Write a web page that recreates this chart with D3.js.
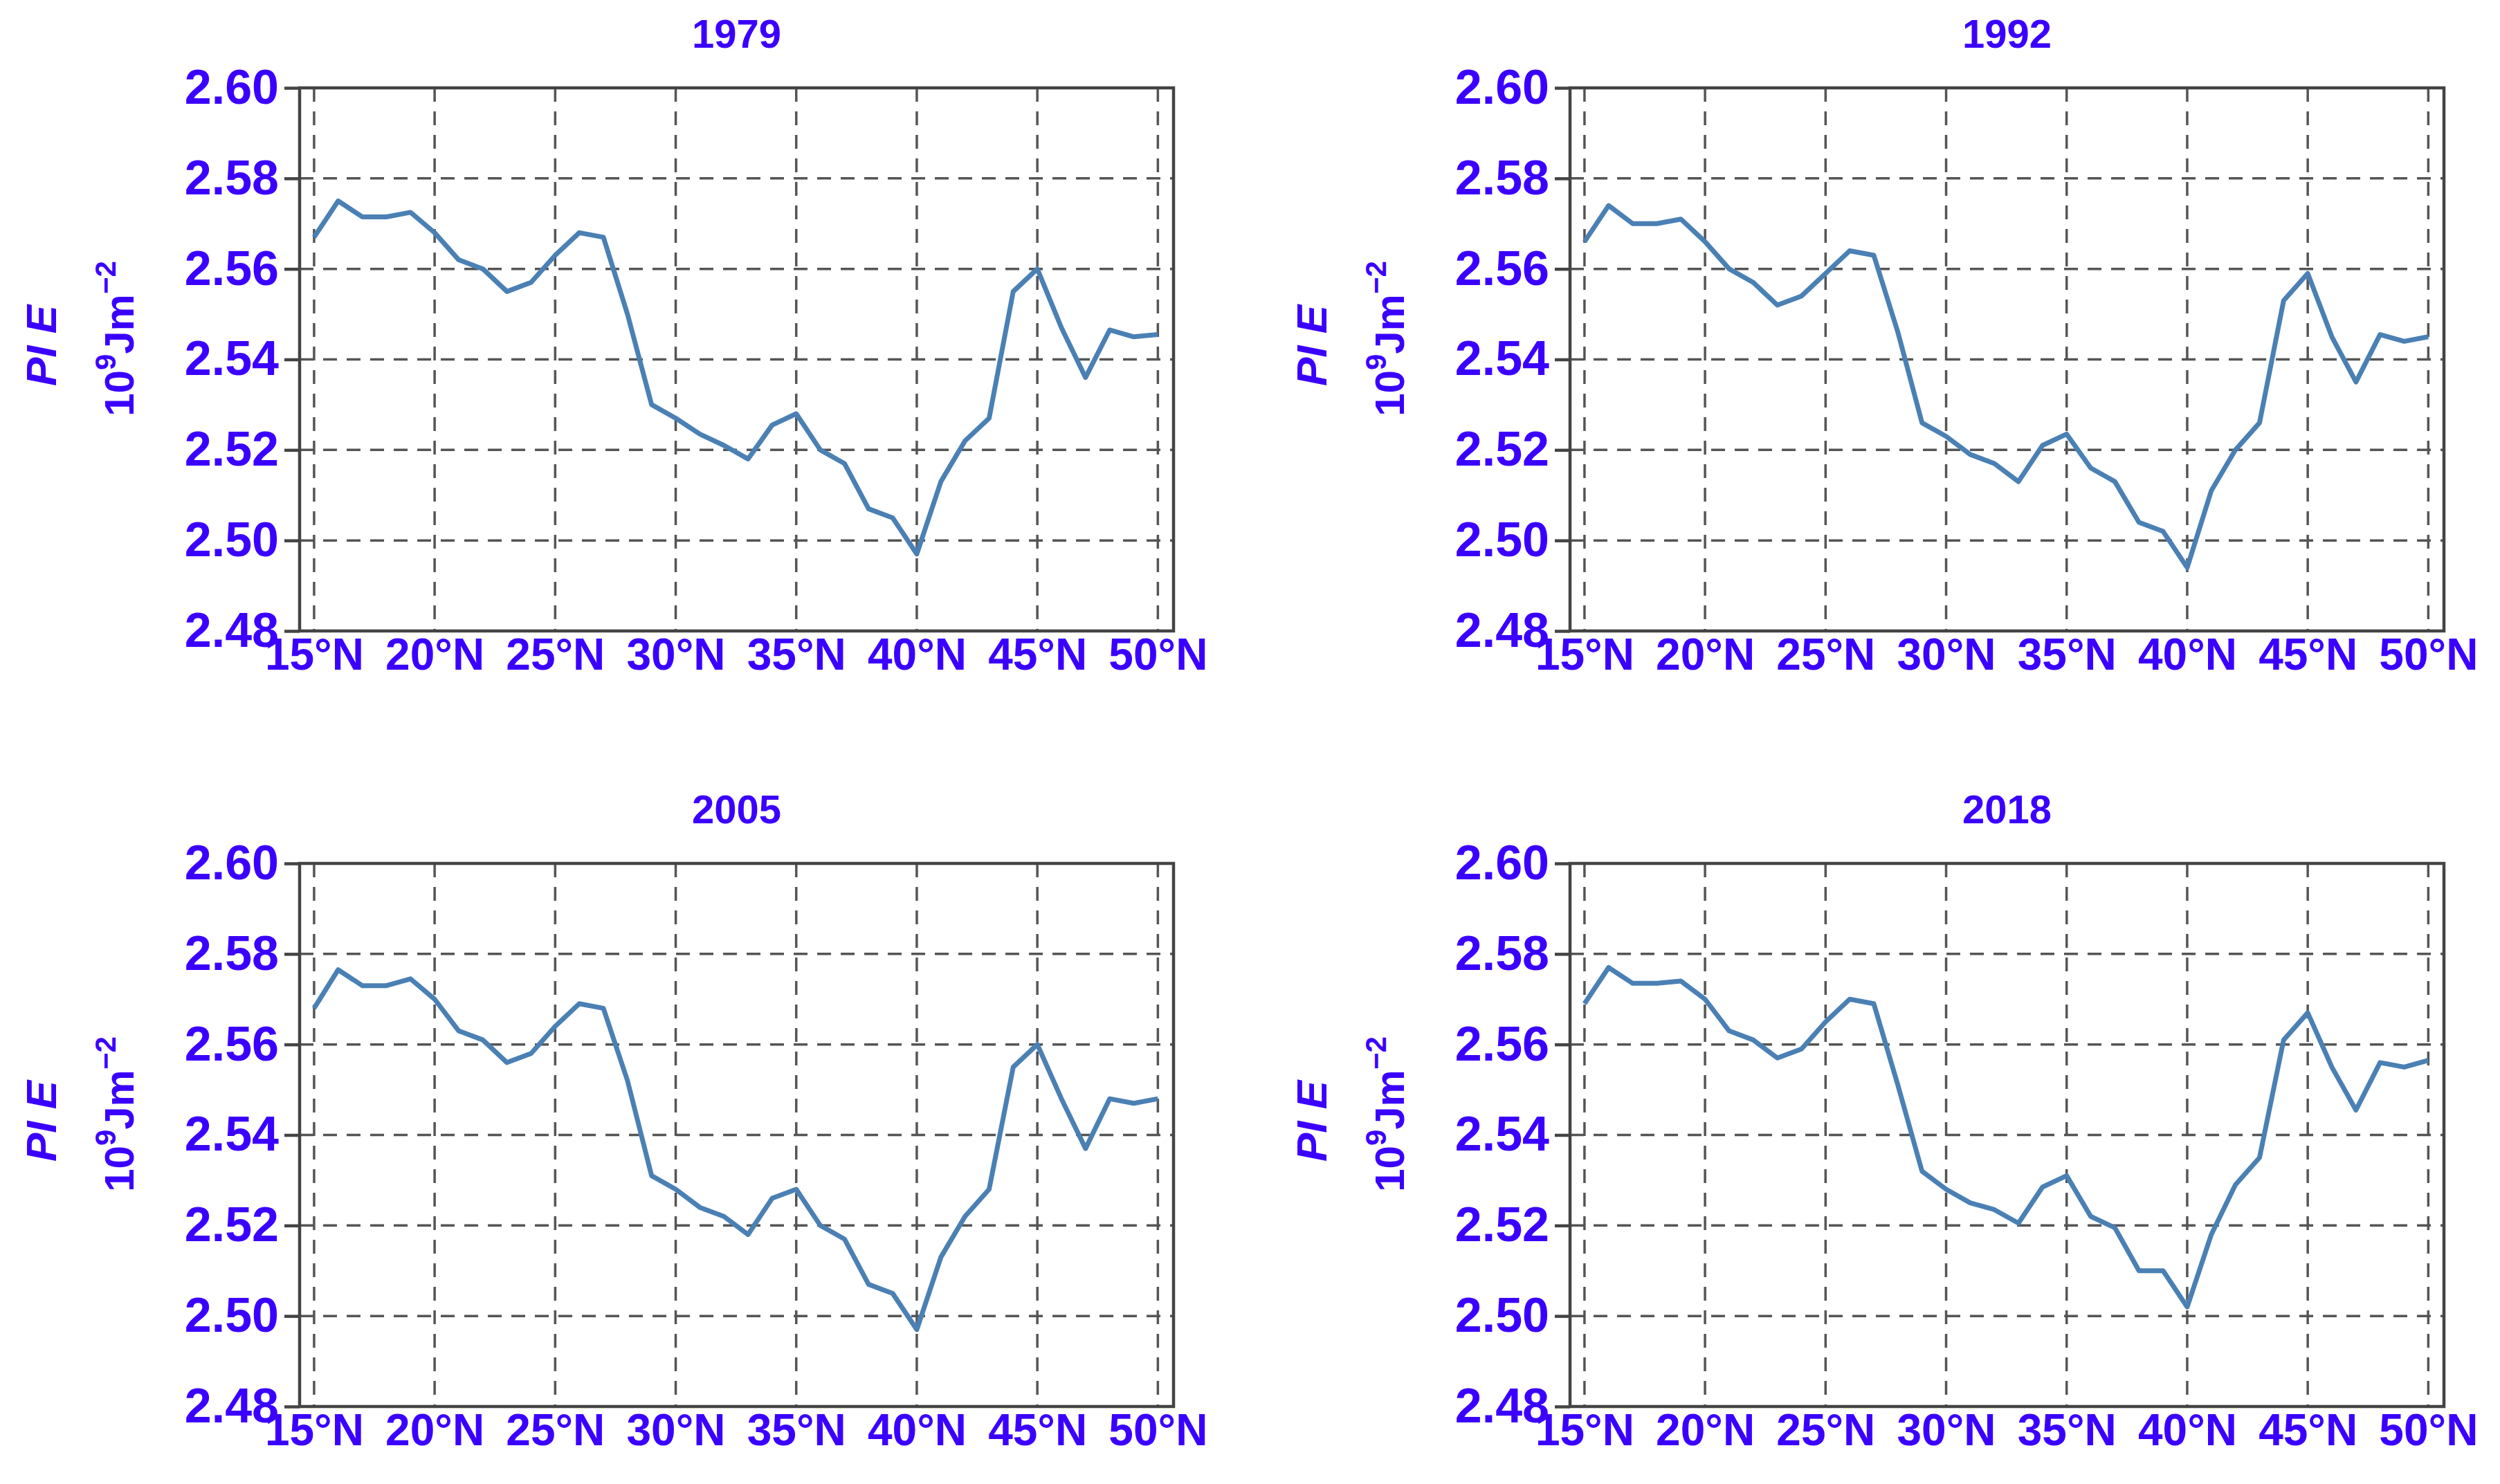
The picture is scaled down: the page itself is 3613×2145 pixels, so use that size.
<!DOCTYPE html>
<html><head><meta charset="utf-8">
<style>body{margin:0;background:#fff}</style>
</head><body>
<svg id="chart" width="3613" height="2145"></svg>
<script src="https://d3js.org/d3.v7.min.js"></script>
<script>
var lats = d3.range(15, 51);
var years = ["1979", "1992", "2005", "2018"];
var pe1979 = [2.567,2.575,2.5715,2.5715,2.5725,2.568,2.562,2.560,2.555,2.557,2.563,2.568,2.567,2.550,2.530,2.527,2.5235,2.521,2.518,2.5255,2.528,2.520,2.517,2.507,2.505,2.497,2.513,2.522,2.527,2.555,2.560,2.547,2.536,2.5465,2.545,2.5455];
var pe1992 = [2.566,2.574,2.570,2.570,2.571,2.566,2.560,2.557,2.552,2.554,2.559,2.564,2.563,2.546,2.526,2.523,2.519,2.517,2.513,2.521,2.5235,2.516,2.513,2.504,2.502,2.494,2.511,2.520,2.526,2.553,2.559,2.545,2.535,2.5455,2.544,2.545];
var pe2005 = [2.568,2.5765,2.573,2.573,2.5745,2.570,2.563,2.561,2.556,2.558,2.564,2.569,2.568,2.552,2.531,2.528,2.524,2.522,2.518,2.526,2.528,2.520,2.517,2.507,2.505,2.497,2.513,2.522,2.528,2.555,2.560,2.548,2.537,2.548,2.547,2.548];
var pe2018 = [2.569,2.577,2.5735,2.5735,2.574,2.570,2.563,2.561,2.557,2.559,2.565,2.570,2.569,2.551,2.532,2.528,2.525,2.5235,2.5205,2.5285,2.531,2.522,2.5195,2.510,2.510,2.502,2.518,2.529,2.535,2.561,2.567,2.555,2.5455,2.556,2.555,2.5565];
var series = [pe1979, pe1992, pe2005, pe2018];
var yTicks = [2.48, 2.50, 2.52, 2.54, 2.56, 2.58, 2.60];
var xTicks = [15, 20, 25, 30, 35, 40, 45, 50];

var blue = "#3a00ff";
var font = "Arial, 'Liberation Sans', sans-serif";
var svg = d3.select("#chart");
var panels = [
  {x: 433, y: 127}, {x: 2269, y: 127},
  {x: 433, y: 1248}, {x: 2269, y: 1248}
];
var W = 1263, H = 785;

panels.forEach(function (p, i) {
  var g = svg.append("g").attr("transform", "translate(" + p.x + "," + p.y + ")");
  var x = d3.scaleLinear().domain([14.4, 50.65]).range([0, W]);
  var y = d3.scaleLinear().domain([2.48, 2.60]).range([H, 0]);

  // dashed grid
  g.selectAll(".vg").data(xTicks).enter().append("line")
    .attr("x1", function (d) { return x(d); }).attr("x2", function (d) { return x(d); })
    .attr("y1", 0).attr("y2", H)
    .attr("stroke", "#555").attr("stroke-width", 3.5).attr("stroke-dasharray", "20,14");
  g.selectAll(".hg").data(yTicks.slice(1, -1)).enter().append("line")
    .attr("x1", 0).attr("x2", W)
    .attr("y1", function (d) { return y(d); }).attr("y2", function (d) { return y(d); })
    .attr("stroke", "#555").attr("stroke-width", 3.5).attr("stroke-dasharray", "20,14");

  g.append("rect").attr("width", W).attr("height", H)
    .attr("fill", "none").attr("stroke", "#444").attr("stroke-width", 4.5);

  var line = d3.line().x(function (d, k) { return x(lats[k]); }).y(function (d) { return y(d); });
  g.append("path").datum(series[i]).attr("d", line)
    .attr("fill", "none").attr("stroke", "#4a80b4").attr("stroke-width", 7)
    .attr("stroke-linejoin", "round");

  var ya = g.append("g").call(d3.axisLeft(y).tickValues(yTicks).tickFormat(d3.format(".2f")).tickSize(22).tickPadding(8));
  ya.select(".domain").remove();
  ya.selectAll("line").attr("stroke", "#444").attr("stroke-width", 4.5);
  ya.selectAll("text").attr("fill", blue).style("font", "bold 70px " + font);

  var xa = g.append("g").attr("transform", "translate(0," + H + ")")
    .call(d3.axisBottom(x).tickValues(xTicks).tickFormat(function (d) { return d + "°N"; }).tickSize(0).tickPadding(8));
  xa.select(".domain").remove();
  xa.selectAll("text").attr("fill", blue).attr("dy", "0.75em").style("font", "bold 64px " + font);

  g.append("text").attr("x", W / 2).attr("y", -58).attr("text-anchor", "middle")
    .attr("fill", blue).style("font", "bold 58px " + font).text(years[i]);

  var lab = g.append("text").attr("transform", "translate(-352," + (H / 2 - 20) + ") rotate(-90)")
    .attr("text-anchor", "middle").attr("fill", blue).style("font", "bold 62px " + font);
  lab.append("tspan").style("font-style", "italic").text("PI E");
  var lab2 = g.append("text").attr("transform", "translate(-240," + (H / 2 - 30) + ") rotate(-90)")
    .attr("text-anchor", "middle").attr("fill", blue).style("font", "bold 60px " + font);
  lab2.append("tspan").text("10");
  lab2.append("tspan").attr("dy", -26).style("font-size", "42px").text("9");
  lab2.append("tspan").attr("dy", 26).text("Jm");
  lab2.append("tspan").attr("dy", -26).style("font-size", "42px").text("−2");
});
</script>
</body></html>
